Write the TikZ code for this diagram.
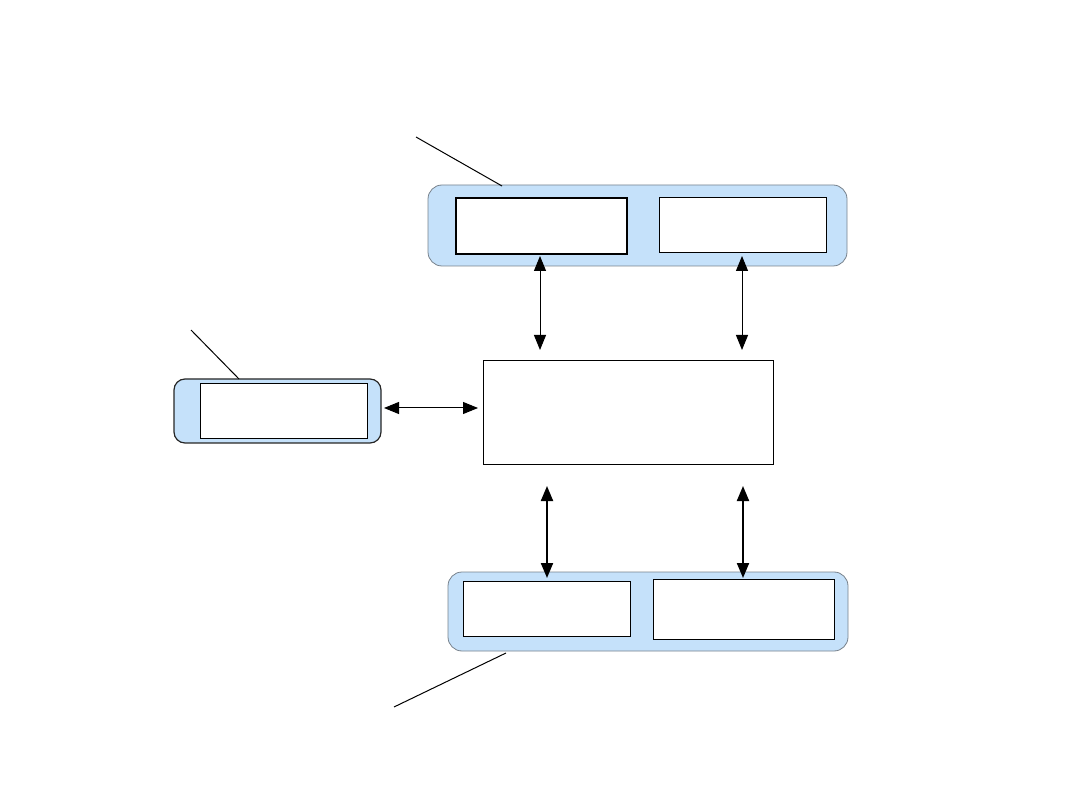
\documentclass[tikz,border=0pt]{standalone}
\usetikzlibrary{arrows.meta}
\definecolor{panelblue}{RGB}{197,225,250}
\definecolor{paneledge}{RGB}{120,130,140}
\begin{document}
\begin{tikzpicture}[x=1pt,y=-1pt,
  panel/.style={fill=panelblue,draw=paneledge,line width=0.8pt,rounded corners=14pt},
  darkpanel/.style={panel,draw=black!85,line width=1.2pt,rounded corners=11pt},
  box/.style={fill=white,draw=black,line width=1pt},
  link/.style={draw=black,line width=1pt,{Triangle[width=12pt,length=15pt]}-{Triangle[width=12pt,length=15pt]}},
  thicklink/.style={link,line width=2pt},
  leader/.style={draw=black,line width=1pt}]
\useasboundingbox (0,0) rectangle (1080,810);
% top group
\draw[panel] (428,185) rectangle (847,266);
\node[box,line width=1.6pt,minimum width=171pt,minimum height=56pt,inner sep=0pt,anchor=north west] (ta) at (455,197) {};
\node[box,minimum width=167pt,minimum height=55pt,inner sep=0pt,anchor=north west] (tb) at (659,197) {};
\coordinate (tlead0) at (416,137);
\coordinate (tlead1) at (502,186);
\draw[leader] (tlead0) -- (tlead1);
% centre
\node[box,minimum width=290pt,minimum height=104pt,inner sep=0pt,anchor=north west] (c) at (483,360) {};
% left group
\draw[darkpanel] (174,379) rectangle (381,443);
\node[box,minimum width=167pt,minimum height=55pt,inner sep=0pt,anchor=north west] (l) at (200,383) {};
\coordinate (llead0) at (191,330);
\coordinate (llead1) at (239,379);
\draw[leader] (llead0) -- (llead1);
% bottom group
\draw[panel] (448,572) rectangle (848,651);
\node[box,minimum width=167pt,minimum height=55pt,inner sep=0pt,anchor=north west] (ba) at (463,581) {};
\node[box,minimum width=181pt,minimum height=60pt,inner sep=0pt,anchor=north west] (bb) at (653,579) {};
\coordinate (blead0) at (394,707);
\coordinate (blead1) at (506,653);
\draw[leader] (blead0) -- (blead1);
% connectors
\coordinate (a1s) at (540,256); \coordinate (a1e) at (540,350);
\coordinate (a2s) at (742,256); \coordinate (a2e) at (742,350);
\draw[link] (a1s) -- (a1e);
\draw[link] (a2s) -- (a2e);
\coordinate (h1) at (384,408); \coordinate (h2) at (478,408);
\draw[link] (h1) -- (h2);
\coordinate (b1s) at (547,486); \coordinate (b1e) at (547,578);
\coordinate (b2s) at (743,486); \coordinate (b2e) at (743,578);
\draw[thicklink] (b1s) -- (b1e);
\draw[thicklink] (b2s) -- (b2e);
\end{tikzpicture}
\end{document}
